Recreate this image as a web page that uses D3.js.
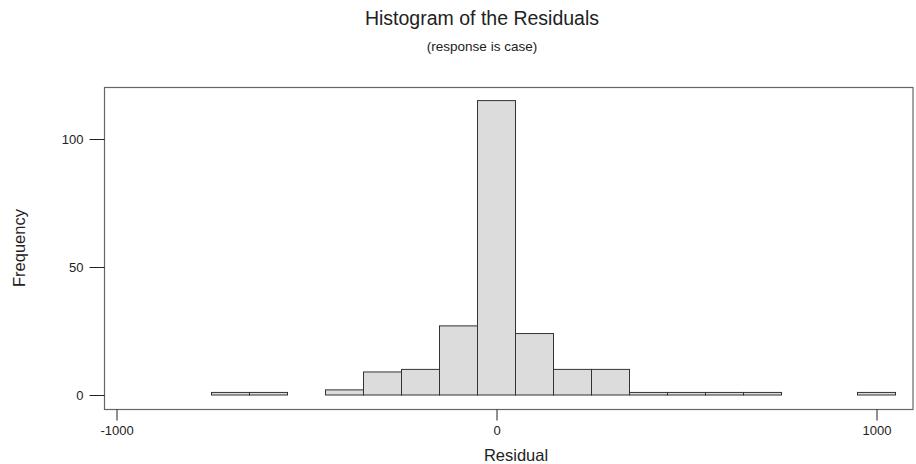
<!DOCTYPE html>
<html>
<head>
<meta charset="utf-8">
<script src="https://cdn.jsdelivr.net/npm/d3@7"></script>
<style>
  body { margin: 0; background: #fff; }
  text { font-family: "Liberation Sans", Arial, sans-serif; fill: #222; }
</style>
</head>
<body>
<script>
// bin midpoints (width 100) and their counts
var binCenters = [-700, -600, -500, -400, -300, -200, -100, 0, 100, 200, 300, 400, 500, 600, 700, 800, 900, 1000];
var counts     = [1, 1, 0, 2, 9, 10, 27, 115, 24, 10, 10, 1, 1, 1, 1, 0, 0, 1];
var binWidth = 100;
var xTicks = [-1000, 0, 1000];
var yTicks = [0, 50, 100];

var w = 916, h = 464;
var frame = {left: 104.5, top: 87.5, right: 913, bottom: 409.5};

var SVG = d3.select('body').append('svg').attr('width', w).attr('height', h);

var x = d3.scaleLinear().domain([-1000, 1000]).range([116.5, 876.5]);
var y = d3.scaleLinear().domain([0, 100]).range([395, 139]);

// plain hyphen minus like the original
var plainFmt = function(d){ return String(d); };

// titles
SVG.append('text').attr('x', 482).attr('y', 25).attr('text-anchor', 'middle')
   .style('font-size', '19.5px').text('Histogram of the Residuals');
SVG.append('text').attr('x', 482).attr('y', 51).attr('text-anchor', 'middle')
   .style('font-size', '13.5px').text('(response is case)');

// frame
SVG.append('rect')
   .attr('x', frame.left).attr('y', frame.top)
   .attr('width', frame.right - frame.left).attr('height', frame.bottom - frame.top)
   .attr('fill', 'none').attr('stroke', '#666').attr('stroke-width', 1.2);

// bars
SVG.append('g').selectAll('rect.bar')
   .data(binCenters.map(function(c, i){ return {c: c, n: counts[i]}; }))
   .enter().append('rect')
   .attr('class', 'bar')
   .attr('x', function(d){ return x(d.c - binWidth / 2); })
   .attr('width', function(d){ return x(d.c + binWidth / 2) - x(d.c - binWidth / 2); })
   .attr('y', function(d){ return y(d.n); })
   .attr('height', function(d){ return y(0) - y(d.n); })
   .attr('fill', '#dcdcdc')
   .attr('stroke', '#333')
   .attr('stroke-width', 1);

// y axis
var yAxis = SVG.append('g').attr('transform', 'translate(' + frame.left + ',0)')
   .call(d3.axisLeft(y).tickValues(yTicks).tickSize(15).tickPadding(6).tickFormat(plainFmt));
yAxis.select('.domain').remove();
yAxis.selectAll('line').attr('stroke', '#222');
yAxis.selectAll('text').style('font-size', '13px').style('font-family', '"Liberation Sans", Arial, sans-serif').attr('fill', '#333').attr('dy', '0.35em');

// x axis
var xAxis = SVG.append('g').attr('transform', 'translate(0,' + frame.bottom + ')')
   .call(d3.axisBottom(x).tickValues(xTicks).tickSize(11).tickPadding(5).tickFormat(plainFmt));
xAxis.select('.domain').remove();
xAxis.selectAll('line').attr('stroke', '#222');
xAxis.selectAll('text').style('font-size', '13px').style('font-family', '"Liberation Sans", Arial, sans-serif').attr('fill', '#333');

// axis labels
SVG.append('text').attr('x', 516).attr('y', 461).attr('text-anchor', 'middle')
   .style('font-size', '16.5px').text('Residual');
SVG.append('text').attr('transform', 'translate(25,248) rotate(-90)').attr('text-anchor', 'middle')
   .style('font-size', '16.5px').text('Frequency');
</script>
</body>
</html>
